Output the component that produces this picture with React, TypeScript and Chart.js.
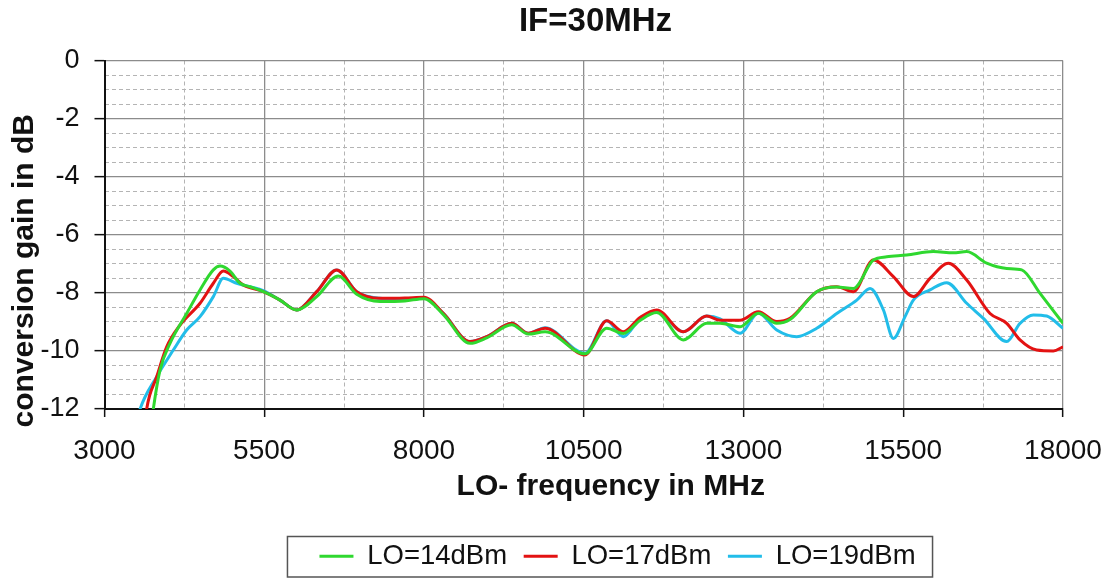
import React, { useEffect, useRef } from "react";
import { Chart, registerables } from "chart.js";

Chart.register(...registerables);

const chartTitle = "IF=30MHz";
const xAxisTitle = "LO- frequency in MHz";
const yAxisTitle = "conversion gain in dB";

const seriesNames = ["LO=14dBm", "LO=17dBm", "LO=19dBm"];
const seriesColors = ["#2fd82f", "#e31212", "#22bde9"];

const xTickValues = [3000, 5500, 8000, 10500, 13000, 15500, 18000];
const yTickValues = [0, -2, -4, -6, -8, -10, -12];
const xMin = 3000;
const xMax = 18000;
const xMinorStep = 1250;
const yMin = -12;
const yMax = 0;
const yMinorStep = 0.5;

const lo14Freq = [3720, 3764, 3869, 4025, 4286, 4495, 4703, 4808, 4964, 5120, 5277, 5485, 5747, 6008, 6321, 6659, 6947, 7312, 7700, 8000, 8303, 8720, 8981, 9372, 9633, 9894, 10520, 10859, 11119, 11380, 11642, 12058, 12424, 12633, 12946, 13232, 13520, 13728, 14146, 14459, 14719, 15032, 15241, 15554, 15971, 16284, 16493, 16806, 17119, 17354, 17641, 18000];
const lo14Gain = [-12.8, -12.0, -10.66, -9.74, -8.71, -7.9, -7.21, -7.08, -7.25, -7.67, -7.79, -7.96, -8.25, -8.59, -8.13, -7.42, -8.05, -8.3, -8.28, -8.2, -8.75, -9.74, -9.55, -9.1, -9.42, -9.34, -10.1, -9.22, -9.4, -8.95, -8.68, -9.62, -9.05, -9.05, -9.17, -8.7, -9.05, -8.92, -7.96, -7.8, -7.85, -6.87, -6.76, -6.7, -6.58, -6.62, -6.58, -6.98, -7.16, -7.21, -8.02, -9.05];

const lo17Freq = [3620, 3660, 3817, 3973, 4182, 4495, 4703, 4860, 5016, 5173, 5485, 5747, 6008, 6321, 6634, 6947, 7312, 7700, 8000, 8303, 8720, 8981, 9372, 9633, 9894, 10520, 10859, 11119, 11380, 11642, 12058, 12424, 12633, 12946, 13232, 13520, 13728, 14146, 14459, 14719, 15032, 15345, 15658, 15919, 16206, 16493, 16858, 17119, 17327, 17588, 17849, 18000];
const lo17Gain = [-12.8, -12.0, -10.89, -9.86, -9.11, -8.36, -7.67, -7.25, -7.44, -7.73, -7.96, -8.25, -8.59, -7.96, -7.21, -7.96, -8.19, -8.18, -8.15, -8.71, -9.68, -9.51, -9.05, -9.39, -9.22, -10.14, -8.96, -9.34, -8.85, -8.59, -9.34, -8.8, -8.94, -8.94, -8.65, -8.99, -8.88, -7.96, -7.79, -7.96, -6.87, -7.44, -8.13, -7.5, -6.98, -7.56, -8.71, -9.05, -9.62, -9.97, -10.0, -9.86];

const lo19Freq = [3500, 3557, 3817, 4077, 4286, 4495, 4703, 4860, 5069, 5277, 5485, 5747, 6008, 6321, 6634, 6947, 7312, 7700, 8000, 8303, 8720, 8981, 9372, 9633, 9894, 10520, 10859, 11119, 11380, 11642, 12058, 12424, 12633, 12946, 13232, 13520, 13833, 14146, 14459, 14773, 14980, 15189, 15345, 15528, 15658, 15919, 16180, 16493, 16754, 17119, 17327, 17536, 17745, 18000];
const lo19Gain = [-12.5, -12.0, -10.89, -9.97, -9.28, -8.82, -8.13, -7.5, -7.67, -7.79, -7.92, -8.25, -8.59, -7.96, -7.21, -7.96, -8.19, -8.22, -8.19, -8.71, -9.68, -9.51, -9.05, -9.39, -9.2, -10.08, -8.96, -9.51, -8.9, -8.65, -9.34, -8.8, -8.9, -9.39, -8.7, -9.28, -9.51, -9.22, -8.71, -8.25, -7.85, -8.59, -9.57, -8.82, -8.25, -7.9, -7.65, -8.36, -8.88, -9.68, -9.05, -8.76, -8.8, -9.22];

const FONT = "'Liberation Sans', Arial, Helvetica, sans-serif";
const TEXT = "#111111";
const MAJOR_GRID = "#8c8c8c";
const MINOR_GRID = "#b4b4b4";

function toPoints(xs: number[], ys: number[]) {
  return xs.map((x, i) => ({ x, y: ys[i] }));
}

function shiftScaleTitle(scale: any, dx: number, dy: number) {
  if (!scale || scale.__titleShifted) return;
  scale.__titleShifted = true;
  const orig = scale.drawTitle.bind(scale);
  scale.drawTitle = function () {
    const l = this.left, r = this.right, t = this.top, b = this.bottom;
    this.left = l + dx; this.right = r + dx;
    this.top = t + dy; this.bottom = b + dy;
    try { orig(); } finally {
      this.left = l; this.right = r; this.top = t; this.bottom = b;
    }
  };
}

const layoutTweaks = {
  id: "layoutTweaks",
  afterLayout(chart: any) {
    const lg = chart.legend;
    if (lg) { lg.left += 86; lg.right += 86; }
    const tb = chart.titleBlock;
    if (tb) { tb.left += 64; tb.right += 64; }
    shiftScaleTitle(chart.scales.x, 27, 0);
    shiftScaleTitle(chart.scales.y, 0, 36);
  },
  afterDraw(chart: any) {
    const lg = chart.legend;
    if (!lg || !lg.legendHitBoxes || !lg.legendHitBoxes.length) return;
    const hb = lg.legendHitBoxes;
    const last = hb[hb.length - 1];
    const l = hb[0].left - 32;
    const r = last.left + last.width + 17;
    const t = hb[0].top - 6;
    const b = hb[0].top + hb[0].height + 7;
    const ctx = chart.ctx;
    ctx.save();
    ctx.strokeStyle = "#555555";
    ctx.lineWidth = 1.5;
    ctx.strokeRect(l, t, r - l, b - t);
    ctx.restore();
  },
};

export default function App() {
  const canvasRef = useRef<HTMLCanvasElement | null>(null);

  useEffect(() => {
    if (!canvasRef.current) return;
    Chart.defaults.font.family = FONT;
    const seriesFreq = [lo14Freq, lo17Freq, lo19Freq];
    const seriesGain = [lo14Gain, lo17Gain, lo19Gain];
    const chart = new Chart(canvasRef.current, {
      type: "line",
      data: {
        datasets: seriesNames.map((name, i) => ({
          label: name,
          data: toPoints(seriesFreq[i], seriesGain[i]),
          borderColor: seriesColors[i],
          backgroundColor: seriesColors[i],
          borderWidth: 3,
          pointRadius: 0,
          pointHoverRadius: 0,
          fill: false,
          cubicInterpolationMode: "monotone" as const,
        })),
      },
      options: {
        animation: false,
        responsive: false,
        events: [],
        layout: { padding: { left: 0, right: 49, top: 0, bottom: 0 } },
        plugins: {
          title: {
            display: true,
            text: chartTitle,
            color: TEXT,
            font: { size: 33, weight: "bold", family: FONT },
            padding: { top: 2, bottom: 18.9 },
          },
          legend: {
            display: true,
            position: "bottom",
            labels: {
              usePointStyle: true,
              pointStyle: "line",
              pointStyleWidth: 34,
              color: TEXT,
              font: { size: 27.5, family: FONT },
              padding: 16.6,
            },
          },
          tooltip: { enabled: false },
        },
        scales: {
          x: {
            type: "linear",
            position: "bottom",
            min: xMin,
            max: xMax,
            afterBuildTicks: (s: any) => {
              s.ticks = xTickValues.map((v) => ({ value: v }));
            },
            ticks: {
              autoSkip: false,
              maxRotation: 0,
              color: TEXT,
              padding: 17,
              font: { size: 28, family: FONT },
              callback: (v: any) => String(v),
            },
            grid: {
              color: MAJOR_GRID,
              lineWidth: 1.3,
              tickColor: TEXT,
              tickLength: 8,
              tickWidth: 1.5,
            },
            border: { color: TEXT, width: 2 },
            title: {
              display: true,
              text: xAxisTitle,
              color: TEXT,
              font: { size: 30, weight: "bold", family: FONT },
              padding: { top: 0, bottom: 21.4 },
            },
            afterFit: (s: any) => {
              s.height = 116.9;
              s.paddingLeft = 0;
              s.paddingRight = 0;
            },
          },
          xMinor: {
            type: "linear",
            position: "bottom",
            min: xMin,
            max: xMax,
            ticks: { display: false, stepSize: xMinorStep },
            grid: {
              drawTicks: false,
              lineWidth: 1,
              color: (c: any) =>
                xTickValues.includes(c.tick?.value) ? "rgba(0,0,0,0)" : MINOR_GRID,
            },
            border: { display: false, dash: [4, 3] },
            afterFit: (s: any) => {
              s.height = 0;
              s.paddingLeft = 0;
              s.paddingRight = 0;
            },
          },
          y: {
            type: "linear",
            position: "left",
            min: yMin,
            max: yMax,
            afterBuildTicks: (s: any) => {
              s.ticks = yTickValues.map((v) => ({ value: v }));
            },
            ticks: {
              color: TEXT,
              padding: 15,
              font: { size: 27, family: FONT },
              callback: (v: any) => String(v),
            },
            grid: {
              color: MAJOR_GRID,
              lineWidth: 1.3,
              tickColor: TEXT,
              tickLength: 10,
              tickWidth: 1.5,
            },
            border: { color: TEXT, width: 2 },
            title: {
              display: true,
              text: yAxisTitle,
              color: TEXT,
              font: { size: 30, weight: "bold", family: FONT },
              padding: { top: 7, bottom: 0 },
            },
            afterFit: (s: any) => {
              s.width = 104.5;
            },
          },
          yMinor: {
            type: "linear",
            position: "left",
            min: yMin,
            max: yMax,
            ticks: { display: false, stepSize: yMinorStep },
            grid: {
              drawTicks: false,
              lineWidth: 1,
              color: (c: any) =>
                yTickValues.includes(c.tick?.value) ? "rgba(0,0,0,0)" : MINOR_GRID,
            },
            border: { display: false, dash: [4, 3] },
            afterFit: (s: any) => {
              s.width = 0;
            },
          },
        },
      },
      plugins: [layoutTweaks],
    } as any);
    return () => {
      chart.destroy();
    };
  }, []);

  return (
    <div
      style={{
        position: "fixed",
        left: 0,
        top: 0,
        width: 1112,
        height: 580,
        background: "#ffffff",
      }}
    >
      <canvas ref={canvasRef} width={1112} height={580} style={{ width: 1112, height: 580, display: "block" }} />
    </div>
  );
}
